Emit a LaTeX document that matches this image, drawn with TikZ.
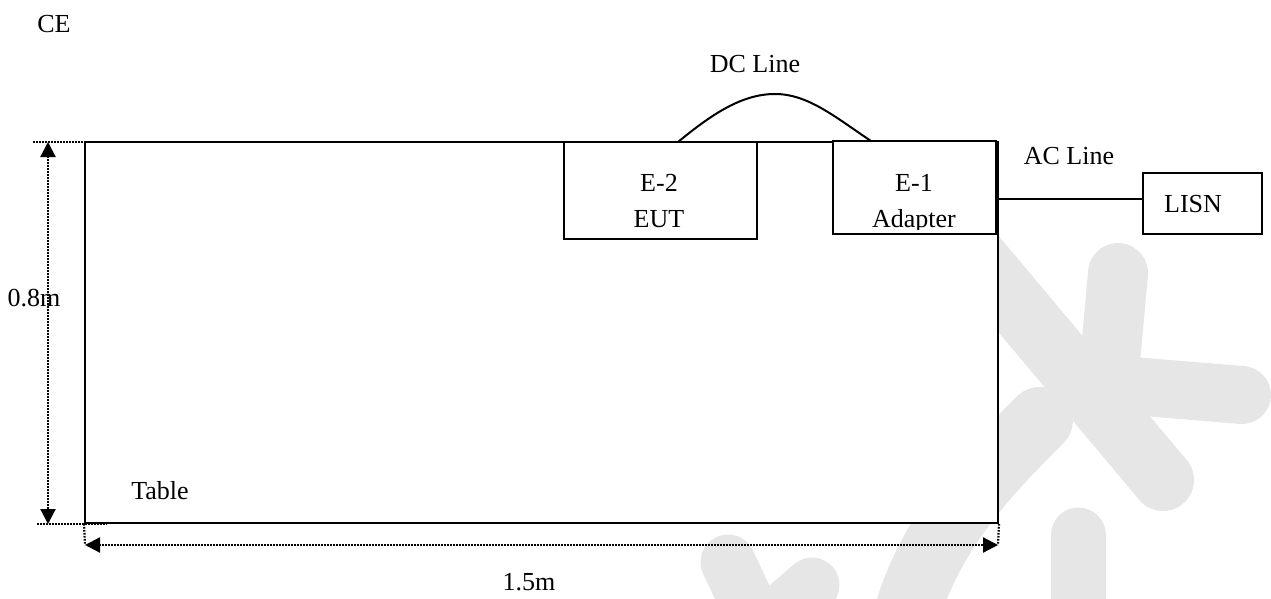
\documentclass[tikz,border=0pt]{standalone}
\usepackage{fontspec}
\setmainfont{Liberation Serif}
\usetikzlibrary{arrows.meta}
\definecolor{wm}{HTML}{E6E6E6}
\begin{document}
\begin{tikzpicture}[x=1pt,y=-1pt,
  lbl/.style={font=\fontsize{26}{36}\selectfont, inner sep=0pt, align=center},
  boxe/.style={draw, line width=2pt, inner sep=0pt, fill=white},
  wire/.style={line width=2pt},
  dimline/.style={line width=2.2pt, dash pattern=on 1.6pt off 1.4pt},
  dimarrow/.style={dimline, {Triangle[length=15pt,width=15pt]}-{Triangle[length=15pt,width=15pt]}},
  wmstroke/.style={draw=wm, line cap=round, line join=round}
]
\useasboundingbox (0,0) rectangle (1271,599);
% watermark
\draw[wmstroke, line width=60pt] (1118,273) -- (1110,362);
\draw[wmstroke, line width=58pt] (1120,385) -- (1242,395);
\draw[wmstroke, line width=62pt] (970,250) -- (1163,480);
\draw[wmstroke, line width=66pt] (1040,420) .. controls (990,470) and (930,530) .. (905,620);
\draw[wmstroke, line width=55pt] (1078,535) -- (1078,620);
\draw[wmstroke, line width=55pt] (728,562) -- (760,630) -- (812,585);
% table
\node[boxe, minimum width=913pt, minimum height=381pt] (table) at (541.5,332.5) {};
\node[lbl] (tablelbl) at (160,491) {Table};
% boxes
\node[boxe, minimum width=193pt, minimum height=97pt] (e2) at (660.5,190.5) {};
\node[boxe, minimum width=163pt, minimum height=93pt] (e1) at (914.5,187.5) {};
\node[boxe, minimum width=119pt, minimum height=61pt] (lisn) at (1202.5,203.5) {};
\node[lbl] (e2t) at (659,201) {E-2\\EUT};
\begin{scope}
  \clip (834,142) rectangle (995,229);
  \node[lbl] (e1t) at (914,204) {E-1\\Adapter};
\end{scope}
\node[lbl] (lisnt) at (1193,204) {LISN};
% DC line
\coordinate (dcA) at (678,142);
\coordinate (dcTop) at (775,94);
\coordinate (dcB) at (871,141);
\draw[wire] (dcA) .. controls (712,114) and (742,94) .. (dcTop) .. controls (808,94) and (835,117) .. (dcB);
\node[lbl] (dclbl) at (755,64) {DC Line};
% AC line
\coordinate (acA) at (998,199);
\coordinate (acB) at (1143,199);
\draw[wire] (acA) -- (acB);
\node[lbl] (aclbl) at (1069,156) {AC Line};
% CE
\node[lbl] (ce) at (54,24) {CE};
% dimensions
\coordinate (vTop) at (48,142);
\coordinate (vBot) at (48,524);
\coordinate (hL) at (85,545);
\coordinate (hR) at (998,545);
\draw[dimline] (33,142) -- (102,142);
\draw[dimline] (37,524) -- (107,524);
\draw[dimline] (table.south west) -- (hL);
\draw[dimline] (table.south east) -- (hR);
\draw[dimarrow] (vTop) -- (vBot);
\draw[dimarrow] (hL) -- (hR);
\node[lbl] (v08) at (34,298) {0.8m};
\node[lbl] (h15) at (529,582) {1.5m};
\end{tikzpicture}
\end{document}
